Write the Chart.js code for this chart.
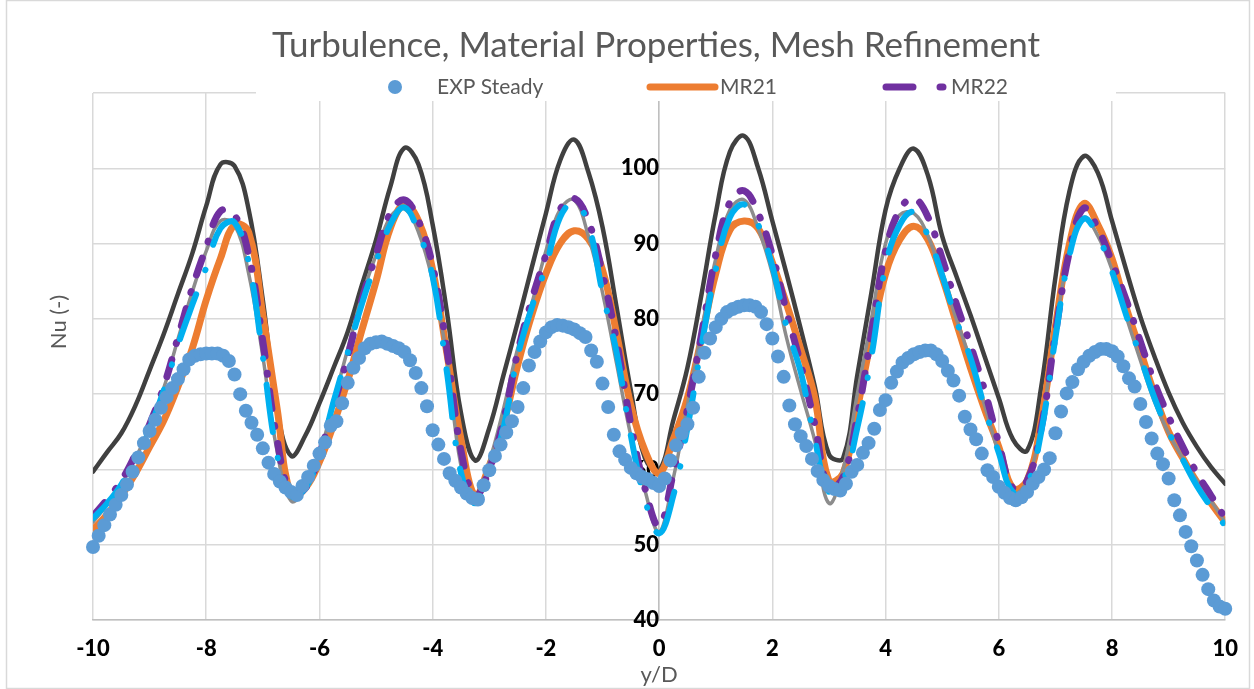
<!DOCTYPE html>
<html>
<head>
<meta charset="utf-8">
<title>Turbulence, Material Properties, Mesh Refinement</title>
<script src="https://cdn.jsdelivr.net/npm/chart.js@4.4.1/dist/chart.umd.min.js"></script>
<style>
  html, body { margin: 0; padding: 0; background: #fff; }
  #wrap { width: 1254px; height: 689px; }
</style>
</head>
<body>
<div id="wrap"><canvas id="nuChart" width="1254" height="689"></canvas></div>
<script>
// ---- data ----
const chartTitle = 'Turbulence, Material Properties, Mesh Refinement';

const xTickValues = [-10, -8, -6, -4, -2, 0, 2, 4, 6, 8, 10];
const xTickLabels = ['-10', '-8', '-6', '-4', '-2', '0', '2', '4', '6', '8', '10'];
const yTickValues = [40, 50, 60, 70, 80, 90, 100, 110];
const yTickLabels = ['40', '50', '60', '70', '80', '90', '100', ''];

// y/D positions of the simulation curves
const xLine = [
  -10, -9.75, -9.5, -9.25, -9, -8.75, -8.5, -8.25, -8, -7.75,
  -7.5, -7.25, -7, -6.75, -6.5, -6.25, -6, -5.75, -5.5, -5.25,
  -5, -4.75, -4.5, -4.25, -4, -3.75, -3.5, -3.25, -3, -2.75,
  -2.5, -2.25, -2, -1.75, -1.5, -1.25, -1, -0.75, -0.5, -0.25,
  0, 0.25, 0.5, 0.75, 1, 1.25, 1.5, 1.75, 2, 2.25,
  2.5, 2.75, 3, 3.25, 3.5, 3.75, 4, 4.25, 4.5, 4.75,
  5, 5.25, 5.5, 5.75, 6, 6.25, 6.5, 6.75, 7, 7.25,
  7.5, 7.75, 8, 8.25, 8.5, 8.75, 9, 9.25, 9.5, 9.75,
  10
];

const mr21 = [
  52.0, 54.0, 56.5, 59.5, 63.0, 66.5, 71.0, 76.0, 82.5, 88.0,
  92.5, 91.5, 80.5, 68.2, 56.5, 57.5, 61.0, 66.0, 71.8, 78.5,
  85.0, 92.0, 95.2, 93.0, 86.5, 75.5, 64.0, 56.5, 60.5, 66.0,
  73.8, 80.5, 86.0, 90.0, 91.7, 90.6, 86.5, 78.0, 68.5, 62.5,
  59.5, 64.0, 69.5, 77.5, 86.0, 91.8, 93.0, 92.0, 87.5, 82.0,
  76.0, 69.5, 58.5, 59.5, 68.0, 77.5, 86.0, 90.5, 92.3, 90.5,
  85.5, 79.5, 73.5, 68.0, 63.0, 57.5, 58.5, 66.5, 79.0, 90.0,
  95.3, 92.5, 88.0, 81.5, 75.8, 70.0, 65.0, 61.5, 58.3, 55.5,
  53.0
];

const mr22 = [
  53.8, 56.0, 58.5, 62.0, 66.0, 71.0, 77.5, 84.0, 89.5, 94.3,
  93.8, 88.5, 77.0, 64.0, 56.8, 57.5, 62.0, 68.5, 75.0, 82.5,
  88.5, 94.0, 95.8, 93.0, 87.0, 76.0, 62.5, 56.5, 60.0, 66.5,
  75.5, 82.5, 88.5, 94.5, 96.0, 93.0, 86.0, 77.0, 66.0, 57.5,
  52.5, 59.5, 68.0, 78.0, 88.5, 95.5, 97.0, 94.0, 88.5, 81.0,
  74.0, 66.0, 57.5, 59.0, 67.0, 78.0, 89.0, 94.5, 96.0, 93.5,
  88.0, 82.0, 76.5, 70.5, 63.5, 57.5, 58.5, 65.5, 78.0, 89.0,
  94.7, 92.0, 87.5, 82.5, 77.0, 71.5, 67.0, 63.0, 59.5, 56.5,
  53.5
];

// three more curves drawn without a legend entry
const greyCase = [
  53.0, 55.3, 58.0, 61.5, 65.5, 70.8, 77.3, 83.5, 89.0, 93.0,
  92.5, 86.0, 75.0, 62.5, 55.8, 57.5, 62.0, 69.0, 76.0, 83.0,
  88.5, 93.5, 94.6, 91.5, 85.0, 75.0, 60.5, 56.0, 61.0, 68.0,
  76.0, 82.0, 89.0, 94.5, 95.8, 91.0, 83.5, 74.0, 64.5, 57.2,
  51.7, 58.8, 68.5, 78.5, 88.0, 94.5, 95.8, 92.0, 86.0, 77.5,
  70.5, 63.8, 55.5, 60.0, 70.0, 80.0, 90.0, 93.8, 94.0, 91.0,
  85.5, 80.0, 74.5, 68.5, 62.1, 56.8, 58.5, 66.0, 78.5, 89.0,
  93.5, 91.0, 86.5, 80.3, 74.5, 69.0, 64.8, 61.5, 58.5, 55.8,
  53.0
];

const darkCase = [
  59.7, 62.3, 64.8, 68.5, 73.2, 78.0, 83.3, 88.6, 95.0, 100.5,
  100.3, 94.5, 82.5, 68.0, 61.8, 64.5, 68.8, 73.5, 78.3, 84.5,
  90.5, 97.5, 102.7, 100.5, 92.5, 81.0, 67.5, 61.2, 65.5, 72.5,
  79.5, 86.8, 94.0, 101.0, 103.8, 99.5, 92.2, 81.5, 70.5, 61.5,
  59.9, 66.5, 73.5, 83.3, 94.0, 102.2, 104.3, 100.0, 93.0, 86.0,
  78.7, 71.0, 62.0, 61.5, 72.5, 83.5, 94.5, 100.0, 102.6, 99.0,
  91.0, 85.7, 80.5, 75.0, 69.5, 64.0, 62.5, 71.0, 85.5, 97.0,
  101.6, 99.4, 93.0, 86.5, 80.3, 75.0, 70.2, 66.2, 63.0, 60.3,
  58.1
];

const cyanCase = [
  53.5, 55.5, 58.0, 61.5, 65.5, 70.5, 76.5, 81.8, 86.8, 92.0,
  92.8, 87.5, 75.0, 62.0, 56.5, 57.5, 62.0, 69.0, 75.5, 82.0,
  87.5, 92.5, 94.8, 91.5, 85.6, 73.0, 59.5, 55.5, 59.5, 65.5,
  75.0, 81.5, 87.0, 93.5, 95.5, 92.5, 83.5, 75.5, 64.5, 56.0,
  51.5, 56.5, 65.5, 76.5, 86.5, 93.5, 95.2, 92.5, 87.0, 79.0,
  73.0, 64.0, 57.0, 58.5, 65.5, 75.0, 87.0, 92.5, 94.2, 91.0,
  85.8, 79.8, 74.8, 68.2, 62.2, 57.0, 58.0, 65.0, 77.5, 88.5,
  93.3, 91.0, 86.3, 80.5, 75.0, 69.5, 65.0, 61.3, 57.8, 55.0,
  52.5
];

// experiment, one dot every 0.1 y/D
const xExp = [
  -10.0, -9.9, -9.8, -9.7, -9.6, -9.5, -9.4, -9.3, -9.2, -9.1,
  -9.0, -8.9, -8.8, -8.7, -8.6, -8.5, -8.4, -8.3, -8.2, -8.1,
  -8.0, -7.9, -7.8, -7.7, -7.6, -7.5, -7.4, -7.3, -7.2, -7.1,
  -7.0, -6.9, -6.8, -6.7, -6.6, -6.5, -6.4, -6.3, -6.2, -6.1,
  -6.0, -5.9, -5.8, -5.7, -5.6, -5.5, -5.4, -5.3, -5.2, -5.1,
  -5.0, -4.9, -4.8, -4.7, -4.6, -4.5, -4.4, -4.3, -4.2, -4.1,
  -4.0, -3.9, -3.8, -3.7, -3.6, -3.5, -3.4, -3.3, -3.2, -3.1,
  -3.0, -2.9, -2.8, -2.7, -2.6, -2.5, -2.4, -2.3, -2.2, -2.1,
  -2.0, -1.9, -1.8, -1.7, -1.6, -1.5, -1.4, -1.3, -1.2, -1.1,
  -1.0, -0.9, -0.8, -0.7, -0.6, -0.5, -0.4, -0.3, -0.2, -0.1,
  0.0, 0.1, 0.2, 0.3, 0.4, 0.5, 0.6, 0.7, 0.8, 0.9,
  1.0, 1.1, 1.2, 1.3, 1.4, 1.5, 1.6, 1.7, 1.8, 1.9,
  2.0, 2.1, 2.2, 2.3, 2.4, 2.5, 2.6, 2.7, 2.8, 2.9,
  3.0, 3.1, 3.2, 3.3, 3.4, 3.5, 3.6, 3.7, 3.8, 3.9,
  4.0, 4.1, 4.2, 4.3, 4.4, 4.5, 4.6, 4.7, 4.8, 4.9,
  5.0, 5.1, 5.2, 5.3, 5.4, 5.5, 5.6, 5.7, 5.8, 5.9,
  6.0, 6.1, 6.2, 6.3, 6.4, 6.5, 6.6, 6.7, 6.8, 6.9,
  7.0, 7.1, 7.2, 7.3, 7.4, 7.5, 7.6, 7.7, 7.8, 7.9,
  8.0, 8.1, 8.2, 8.3, 8.4, 8.5, 8.6, 8.7, 8.8, 8.9,
  9.0, 9.1, 9.2, 9.3, 9.4, 9.5, 9.6, 9.7, 9.8, 9.9,
  10.0
];

const expSteady = [
  49.7, 51.2, 52.6, 54.0, 55.3, 56.6, 58.0, 59.7, 61.6, 63.5,
  65.1, 66.6, 68.2, 69.6, 70.8, 72.0, 73.3, 74.6, 75.1, 75.3,
  75.4, 75.4, 75.4, 75.1, 74.4, 72.6, 70.0, 67.8, 66.2, 64.6,
  62.8, 60.9, 59.4, 58.4, 57.6, 57.0, 56.6, 57.8, 59.0, 60.5,
  62.1, 63.6, 65.8, 66.4, 68.8, 71.5, 73.5, 74.8, 76.1, 76.7,
  76.9, 77.0, 76.7, 76.4, 76.1, 75.6, 74.5, 72.8, 70.8, 68.4,
  65.2, 63.3, 61.4, 59.5, 58.5, 57.6, 56.8, 56.2, 56.0, 57.9,
  59.9, 61.8, 63.3, 64.9, 66.4, 68.3, 70.8, 73.8, 75.6, 77.0,
  78.2, 78.9, 79.2, 79.1, 78.9, 78.6, 78.1, 77.6, 75.8, 74.3,
  71.4, 68.3, 64.6, 62.4, 61.3, 60.2, 59.5, 59.0, 58.7, 58.2,
  57.8, 58.8, 61.2, 63.2, 64.8, 66.0, 68.2, 72.3, 75.5, 77.4,
  78.9, 80.0, 80.9, 81.3, 81.6, 81.8, 81.8, 81.6, 80.9, 79.3,
  77.4, 75.0, 72.3, 68.5, 66.0, 64.4, 63.1, 61.4, 59.8, 58.6,
  57.8, 57.4, 57.2, 58.1, 59.7, 60.6, 62.2, 63.5, 65.4, 67.9,
  69.2, 71.5, 73.0, 74.2, 74.8, 75.3, 75.6, 75.8, 75.8, 75.3,
  74.4, 73.1, 71.8, 69.8, 67.0, 65.3, 64.0, 62.1, 59.9, 59.0,
  57.7, 56.9, 56.2, 55.9, 56.3, 57.0, 58.1, 59.0, 60.0, 61.5,
  64.8, 67.7, 70.1, 71.6, 73.3, 74.3, 75.1, 75.6, 76.0, 76.0,
  75.7, 75.0, 73.7, 72.1, 71.0, 68.7, 66.3, 64.1, 62.1, 60.7,
  58.8, 55.9, 53.9, 51.7, 49.8, 47.9, 46.0, 44.1, 42.6, 41.8,
  41.5
];

// ---- helpers ----
function toPoints(xs, ys) {
  return xs.map((x, i) => ({ x: x, y: ys[i] }));
}

function lineSet(label, ys, color, width, dash, order) {
  return {
    label: label,
    data: toPoints(xLine, ys),
    showLine: true,
    borderColor: color,
    backgroundColor: color,
    borderWidth: width,
    borderDash: dash,
    borderCapStyle: 'round',
    borderJoinStyle: 'round',
    tension: 0.4,
    pointRadius: 0,
    order: order
  };
}

// title, legend, y-title and the outer frame, drawn by hand like the Excel chart
const chartDecor = {
  id: 'chartDecor',
  beforeDraw(chart) {
    const ctx = chart.ctx;
    ctx.save();
    ctx.fillStyle = '#ffffff';
    ctx.fillRect(0, 0, chart.width, chart.height);
    ctx.strokeStyle = '#D9D9D9';
    ctx.lineWidth = 1.5;
    ctx.strokeRect(6.5, 0.5, chart.width - 11, chart.height - 1);
    ctx.restore();
  },
  beforeDatasetsDraw(chart) {
    // white legend box sits on top of the top gridline
    const ctx = chart.ctx;
    ctx.save();
    ctx.fillStyle = '#ffffff';
    ctx.fillRect(256, 70, 860, 31);
    ctx.restore();
  },
  afterDraw(chart) {
    const ctx = chart.ctx;
    const ds = chart.data.datasets;

    ctx.save();
    ctx.fillStyle = '#595959';
    ctx.font = '35px Lato';
    ctx.textAlign = 'center';
    ctx.textBaseline = 'alphabetic';
    ctx.fillText(chartTitle, 656, 57);

    // y axis title
    ctx.save();
    ctx.translate(59, 322);
    ctx.rotate(-Math.PI / 2);
    ctx.font = '22px Lato';
    ctx.textBaseline = 'middle';
    ctx.fillText('Nu (-)', 0, 0);
    ctx.restore();

    // legend (first three series only)
    const ly = 87;
    ctx.font = '21px Lato';
    ctx.textAlign = 'left';
    ctx.textBaseline = 'middle';

    ctx.fillStyle = ds[0].backgroundColor;
    ctx.beginPath();
    ctx.arc(395, ly, 7, 0, Math.PI * 2);
    ctx.fill();
    ctx.fillStyle = '#595959';
    ctx.fillText(ds[0].label, 437, ly);

    ctx.lineCap = 'round';
    ctx.strokeStyle = ds[1].borderColor;
    ctx.lineWidth = 7;
    ctx.beginPath();
    ctx.moveTo(650, ly);
    ctx.lineTo(715, ly);
    ctx.stroke();
    ctx.fillText(ds[1].label, 720, ly);

    ctx.strokeStyle = ds[2].borderColor;
    ctx.setLineDash([27, 27, 3, 30]);
    ctx.beginPath();
    ctx.moveTo(886, ly);
    ctx.lineTo(946, ly);
    ctx.stroke();
    ctx.setLineDash([]);
    ctx.fillText(ds[2].label, 951, ly);
    ctx.restore();
  }
};

const tickFont = { family: 'Lato', size: 22, weight: '900' };

new Chart(document.getElementById('nuChart'), {
  type: 'scatter',
  data: {
    datasets: [
      {
        label: 'EXP Steady',
        data: toPoints(xExp, expSteady),
        backgroundColor: '#5B9BD5',
        borderColor: '#5B9BD5',
        borderWidth: 0,
        pointRadius: 7,
        showLine: false,
        clip: false,
        order: 0
      },
      lineSet('MR21', mr21, '#ED7D31', 7, [], 4),
      lineSet('MR22', mr22, '#7030A0', 7, [18, 17, 1, 17], 2),
      lineSet('Case 4', greyCase, '#8C8C8C', 3.5, [], 3),
      lineSet('Case 5', darkCase, '#404040', 4.5, [], 5),
      lineSet('Case 6', cyanCase, '#00B0F0', 6, [48, 26, 0.5, 26], 1)
    ]
  },
  options: {
    responsive: false,
    animation: false,
    events: [],
    layout: { padding: { left: 93, right: 27, top: 93, bottom: 0 } },
    plugins: {
      legend: { display: false },
      title: { display: false },
      tooltip: { enabled: false }
    },
    scales: {
      x: {
        type: 'linear',
        min: -10,
        max: 10,
        afterBuildTicks: (scale) => { scale.ticks = xTickValues.map(v => ({ value: v })); },
        afterFit: (scale) => { scale.height = 69; },
        ticks: {
          callback: (v, i) => xTickLabels[i],
          color: '#000000',
          font: tickFont,
          padding: 16,
          maxRotation: 0,
          autoSkip: false
        },
        grid: { color: '#D9D9D9', lineWidth: 1.5, drawTicks: false },
        border: { color: '#BFBFBF', width: 1.5 },
        title: {
          display: true,
          text: 'y/D',
          color: '#595959',
          font: { family: 'Lato', size: 22 },
          padding: { top: 0, bottom: 1 }
        }
      },
      y: {
        type: 'linear',
        min: 40,
        max: 110,
        position: { x: 0 },
        afterBuildTicks: (scale) => { scale.ticks = yTickValues.map(v => ({ value: v })); },
        ticks: {
          callback: (v, i) => yTickLabels[i],
          color: '#000000',
          font: tickFont,
          padding: 12,
          autoSkip: false
        },
        grid: { color: '#D9D9D9', lineWidth: 1.5, drawTicks: false },
        border: { color: '#BFBFBF', width: 1.5 }
      }
    }
  },
  plugins: [chartDecor]
});
</script>
</body>
</html>
